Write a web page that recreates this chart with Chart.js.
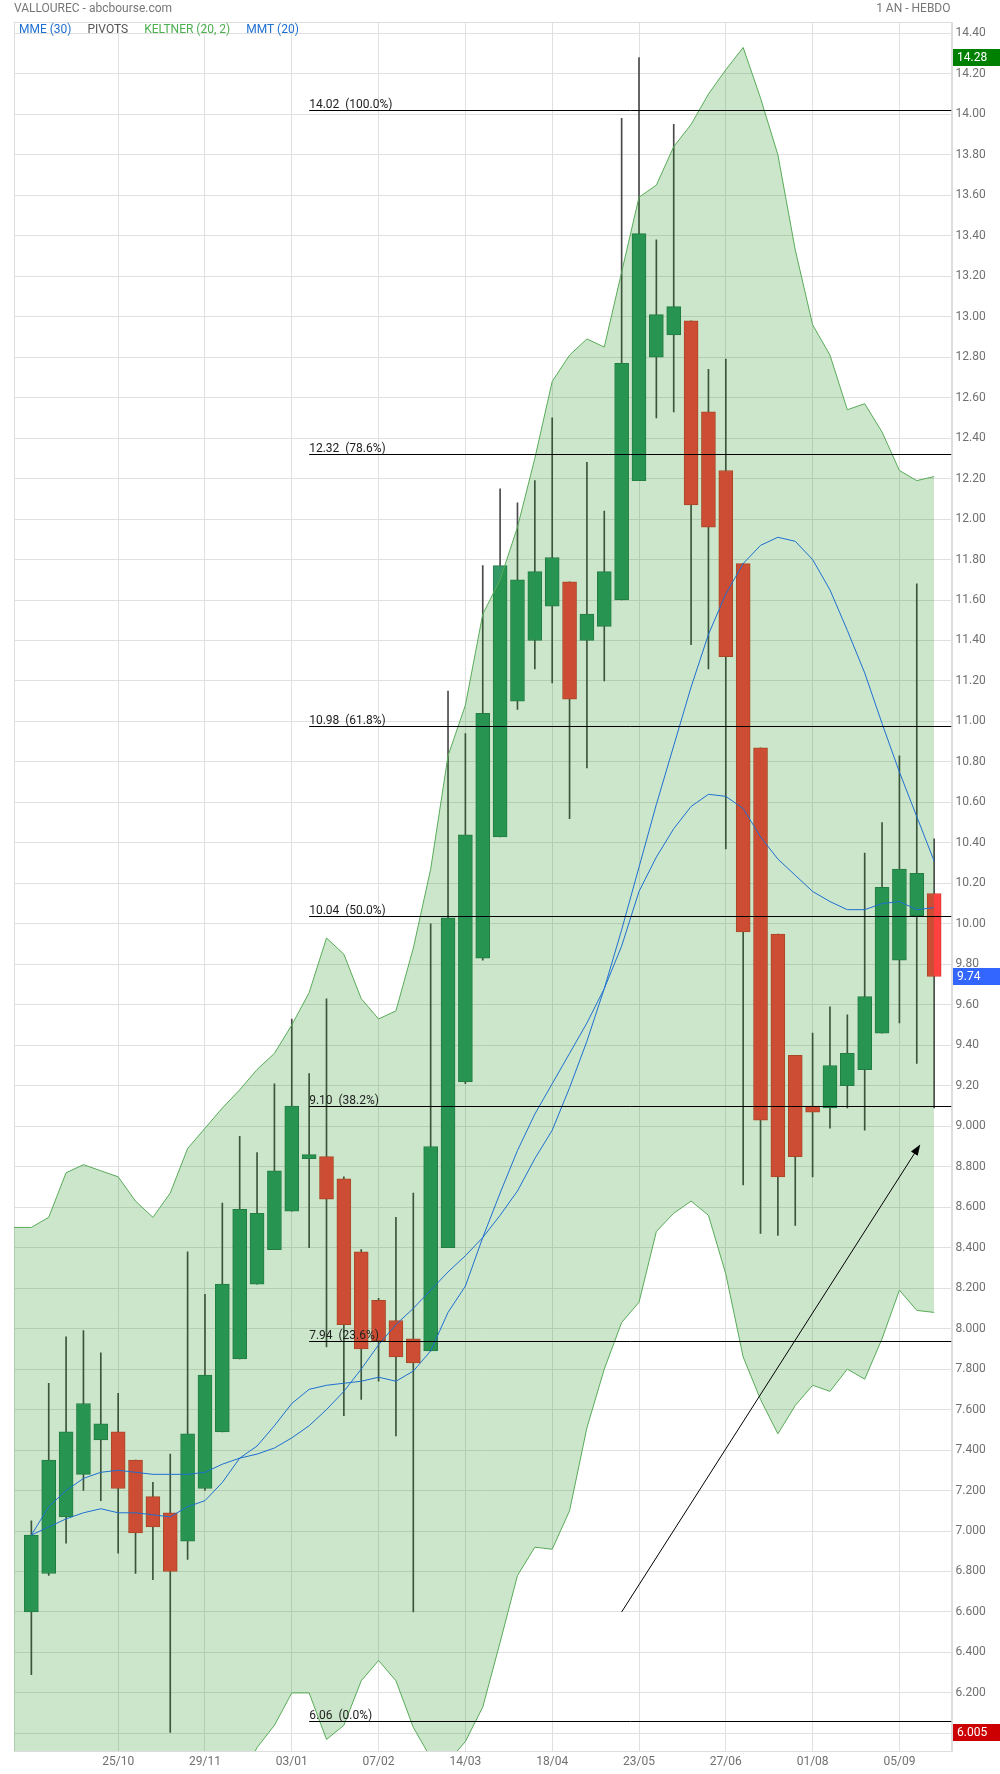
<!DOCTYPE html>
<html>
<head>
<meta charset="utf-8">
<title>VALLOUREC - abcbourse.com</title>
<script src="https://cdn.jsdelivr.net/npm/chart.js"></script>
<style>
  html, body { margin: 0; padding: 0; background: #fff; }
  canvas { display: block; }
</style>
</head>
<body>
<canvas id="chart" width="1000" height="1774"></canvas>
<script>
// one entry per week, index 0 (13/09) only carries the band values
const weeks = ['13/09', '20/09', '27/09', '04/10', '11/10', '18/10', '25/10', '01/11', '08/11', '15/11',
  '22/11', '29/11', '06/12', '13/12', '20/12', '27/12', '03/01', '10/01', '17/01', '24/01',
  '31/01', '07/02', '14/02', '21/02', '28/02', '07/03', '14/03', '21/03', '28/03', '04/04',
  '11/04', '18/04', '25/04', '02/05', '09/05', '16/05', '23/05', '30/05', '06/06', '13/06',
  '20/06', '27/06', '04/07', '11/07', '18/07', '25/07', '01/08', '08/08', '15/08', '22/08',
  '29/08', '05/09', '12/09', '19/09'];
const dateTicks = [6, 11, 16, 21, 26, 31, 36, 41, 46, 51];

const opens = [null, 6.60, 6.79, 7.07, 7.28, 7.45, 7.49, 7.35, 7.17, 7.09,
  6.95, 7.21, 7.49, 7.85, 8.22, 8.39, 8.58, 8.84, 8.85, 8.74,
  8.38, 8.14, 8.04, 7.95, 7.89, 8.40, 9.22, 9.83, 10.43, 11.10,
  11.40, 11.57, 11.69, 11.40, 11.47, 11.60, 12.19, 12.80, 12.91, 12.98,
  12.53, 12.24, 11.78, 10.87, 9.95, 9.35, 9.10, 9.09, 9.20, 9.28,
  9.46, 9.82, 10.04, 10.15];
const highs = [null, 7.05, 7.73, 7.96, 7.99, 7.88, 7.68, 7.35, 7.24, 7.38,
  8.38, 8.17, 8.62, 8.95, 8.87, 9.21, 9.53, 9.26, 9.63, 8.75,
  8.39, 8.15, 8.55, 8.67, 10.00, 11.15, 10.94, 11.77, 12.15, 12.08,
  12.19, 12.50, 11.69, 12.28, 12.04, 13.98, 14.28, 13.38, 13.95, 12.98,
  12.74, 12.79, 11.78, 10.87, 9.95, 9.35, 9.46, 9.59, 9.55, 10.35,
  10.50, 10.83, 11.68, 10.42];
const lows = [null, 6.29, 6.78, 6.94, 7.20, 7.15, 6.89, 6.79, 6.76, 6.005,
  6.86, 7.20, 7.49, 7.85, 8.22, 8.39, 8.58, 8.40, 7.91, 7.57,
  7.65, 7.74, 7.47, 6.60, 7.89, 8.40, 9.21, 9.82, 10.43, 11.06,
  11.26, 11.19, 10.52, 10.77, 11.20, 11.60, 12.19, 12.50, 12.53, 11.38,
  11.26, 10.37, 8.71, 8.47, 8.46, 8.51, 8.75, 8.99, 9.09, 8.98,
  9.46, 9.51, 9.31, 9.09];
const closes = [null, 6.98, 7.35, 7.49, 7.63, 7.53, 7.21, 6.99, 7.02, 6.80,
  7.48, 7.77, 8.22, 8.59, 8.57, 8.78, 9.10, 8.86, 8.64, 8.02,
  7.90, 7.94, 7.86, 7.83, 8.90, 10.03, 10.44, 11.04, 11.77, 11.70,
  11.74, 11.81, 11.11, 11.53, 11.74, 12.77, 13.41, 13.01, 13.05, 12.07,
  11.96, 11.32, 9.96, 9.03, 8.75, 8.85, 9.07, 9.30, 9.36, 9.64,
  10.18, 10.27, 10.25, 9.74];

// KELTNER (20, 2)
const keltnerUp = [8.50, 8.50, 8.55, 8.77, 8.81, 8.78, 8.75, 8.63, 8.55, 8.67,
  8.89, 8.99, 9.09, 9.18, 9.28, 9.36, 9.50, 9.66, 9.93, 9.85,
  9.63, 9.53, 9.57, 9.88, 10.27, 10.83, 11.08, 11.53, 11.70, 11.96,
  12.30, 12.68, 12.81, 12.89, 12.85, 13.22, 13.59, 13.65, 13.84, 13.95,
  14.10, 14.22, 14.33, 14.08, 13.80, 13.33, 12.96, 12.81, 12.54, 12.57,
  12.43, 12.24, 12.19, 12.21];
const keltnerDown = [5.45, 5.45, 5.40, 5.30, 5.30, 5.35, 5.40, 5.45, 5.45, 5.40,
  5.45, 5.55, 5.65, 5.76, 5.93, 6.04, 6.20, 6.20, 5.97, 6.04,
  6.26, 6.36, 6.26, 6.03, 5.88, 5.86, 5.96, 6.13, 6.45, 6.78,
  6.92, 6.91, 7.10, 7.51, 7.80, 8.03, 8.13, 8.48, 8.57, 8.63,
  8.56, 8.27, 7.86, 7.65, 7.48, 7.62, 7.72, 7.69, 7.80, 7.75,
  7.95, 8.19, 8.09, 8.08];

// MME (30) and MMT (20)
const mme30 = [null, 6.98, 7.02, 7.06, 7.09, 7.11, 7.09, 7.09, 7.08, 7.07,
  7.12, 7.15, 7.24, 7.36, 7.42, 7.52, 7.63, 7.70, 7.72, 7.73,
  7.74, 7.76, 7.74, 7.79, 7.89, 8.08, 8.21, 8.45, 8.67, 8.88,
  9.06, 9.21, 9.36, 9.51, 9.68, 9.89, 10.16, 10.33, 10.47, 10.58,
  10.64, 10.63, 10.57, 10.43, 10.32, 10.24, 10.16, 10.11, 10.07, 10.07,
  10.10, 10.11, 10.07, 10.08];
const mmt20 = [null, 6.98, 7.12, 7.20, 7.26, 7.29, 7.30, 7.29, 7.28, 7.28,
  7.28, 7.29, 7.33, 7.36, 7.38, 7.41, 7.46, 7.52, 7.60, 7.69,
  7.80, 7.92, 8.02, 8.10, 8.19, 8.28, 8.36, 8.45, 8.56, 8.68,
  8.84, 8.98, 9.19, 9.42, 9.68, 9.97, 10.28, 10.59, 10.88, 11.17,
  11.43, 11.63, 11.78, 11.87, 11.91, 11.89, 11.80, 11.65, 11.45, 11.24,
  10.99, 10.75, 10.53, 10.31];

// retracement levels, drawn from week 17 to the right edge
const fibLevels = [14.02, 12.32, 10.98, 10.04, 9.10, 7.94, 6.06];
const fibPercents = [100.0, 78.6, 61.8, 50.0, 38.2, 23.6, 0.0];
const fibStart = 17;

// hand-drawn trend arrow, in (week, price)
const arrowFrom = [35, 6.60];
const arrowTo = [52.2, 8.91];

const yMin = 5.913;
const yMax = 14.456;
const yFirstTick = 6.0;
const yStep = 0.2;

const GREEN = '#339966';
const RED = '#ff4040';
const BLUE = '#1e6fd0';
const GREY = '#707070';
const FONT = 'Roboto';

function fmtPrice(v) {
  return v <= 9.0001 ? v.toFixed(3) : v.toFixed(2);
}

const candleIdx = weeks.map((w, i) => i).filter(i => opens[i] !== null);
const bodies = candleIdx.map(i => ({ x: i, y: [opens[i], closes[i]] }));
const wicks = candleIdx.map(i => ({ x: i, y: [lows[i], highs[i]] }));
const bodyColors = candleIdx.map(i => closes[i] >= opens[i] ? GREEN : RED);
const bodyBorders = candleIdx.map(i => closes[i] >= opens[i] ? '#2b7d52' : '#d43a2e');

const series = arr => arr.map((v, i) => ({ x: i, y: v }));

const overlay = {
  id: 'overlay',
  beforeDraw(chart) {
    const { ctx, width, height } = chart;
    ctx.save();
    ctx.fillStyle = '#ffffff';
    ctx.fillRect(0, 0, width, height);
    ctx.restore();
  },
  beforeDatasetsDraw(chart) {
    const { ctx, chartArea: a } = chart;
    ctx.save();
    ctx.strokeStyle = '#dddddd';
    ctx.lineWidth = 1;
    ctx.strokeRect(Math.round(a.left) + 0.5, Math.round(a.top) + 0.5,
      Math.round(a.right - a.left), Math.round(a.bottom - a.top));
    ctx.restore();
  },
  afterDatasetsDraw(chart) {
    const { ctx, chartArea: a } = chart;
    const xs = chart.scales.x;
    const ys = chart.scales.y;
    ctx.save();
    ctx.beginPath();
    ctx.rect(a.left, a.top, a.right - a.left, a.bottom - a.top);
    ctx.clip();

    // retracement lines
    const x0 = xs.getPixelForValue(fibStart);
    ctx.font = '12px ' + FONT;
    ctx.textAlign = 'left';
    ctx.textBaseline = 'alphabetic';
    fibLevels.forEach((lvl, k) => {
      const y = Math.round(ys.getPixelForValue(lvl)) + 0.5;
      ctx.strokeStyle = '#000';
      ctx.lineWidth = 1;
      ctx.beginPath();
      ctx.moveTo(x0, y);
      ctx.lineTo(a.right, y);
      ctx.stroke();
      ctx.fillStyle = '#222';
      ctx.fillText(lvl.toFixed(2) + '  (' + fibPercents[k].toFixed(1) + '%)', x0, y - 3);
    });

    // arrow
    const ax = xs.getPixelForValue(arrowFrom[0]);
    const ay = ys.getPixelForValue(arrowFrom[1]);
    const bx = xs.getPixelForValue(arrowTo[0]);
    const by = ys.getPixelForValue(arrowTo[1]);
    const ang = Math.atan2(by - ay, bx - ax);
    ctx.strokeStyle = '#000';
    ctx.fillStyle = '#000';
    ctx.lineWidth = 1;
    ctx.beginPath();
    ctx.moveTo(ax, ay);
    ctx.lineTo(bx - 8 * Math.cos(ang), by - 8 * Math.sin(ang));
    ctx.stroke();
    ctx.beginPath();
    ctx.moveTo(bx, by);
    ctx.lineTo(bx - 11 * Math.cos(ang) + 4 * Math.sin(ang), by - 11 * Math.sin(ang) - 4 * Math.cos(ang));
    ctx.lineTo(bx - 11 * Math.cos(ang) - 4 * Math.sin(ang), by - 11 * Math.sin(ang) + 4 * Math.cos(ang));
    ctx.closePath();
    ctx.fill();

    // indicator legend
    const items = [['MME (30)', BLUE], ['PIVOTS', '#555555'], ['KELTNER (20, 2)', '#4caf50'], ['MMT (20)', BLUE]];
    ctx.font = '12px ' + FONT;
    ctx.textBaseline = 'middle';
    let lx = a.left + 5;
    items.forEach(([txt, col]) => {
      ctx.fillStyle = col;
      ctx.fillText(txt, lx, a.top + 8);
      lx += ctx.measureText(txt).width + 16;
    });
    ctx.restore();
  },
  afterDraw(chart) {
    const { ctx, chartArea: a, width } = chart;
    const ys = chart.scales.y;
    ctx.save();
    ctx.font = '12px ' + FONT;
    ctx.textBaseline = 'middle';
    ctx.fillStyle = '#777777';
    ctx.textAlign = 'left';
    ctx.fillText('VALLOUREC - abcbourse.com', a.left, 9);
    ctx.textAlign = 'right';
    ctx.fillText('1 AN - HEBDO', a.right - 1, 9);

    // price markers on the axis: highest high, last close, lowest low
    const hi = Math.max(...highs.filter(v => v !== null));
    const lo = Math.min(...lows.filter(v => v !== null));
    const last = closes[closes.length - 1];
    [[hi, '#008000'], [last, '#3366ff'], [lo, '#cc0000']].forEach(([v, bg]) => {
      const y = ys.getPixelForValue(v);
      const x = Math.round(a.right) + 1;
      ctx.fillStyle = bg;
      ctx.fillRect(x, Math.round(y - 8.5), width - x, 17);
      ctx.fillStyle = '#ffffff';
      ctx.textAlign = 'left';
      ctx.fillText(fmtPrice(v), x + 4, y + 0.5);
    });
    ctx.restore();
  }
};

new Chart(document.getElementById('chart'), {
  type: 'bar',
  data: {
    datasets: [
      {
        type: 'line', label: 'MME (30)', data: series(mme30), order: 1,
        borderColor: BLUE, borderWidth: 1, pointRadius: 0, tension: 0, fill: false
      },
      {
        type: 'line', label: 'MMT (20)', data: series(mmt20), order: 1,
        borderColor: BLUE, borderWidth: 1, pointRadius: 0, tension: 0, fill: false
      },
      {
        type: 'line', label: 'Keltner haut', data: series(keltnerUp), order: 4,
        borderColor: '#58ab58', borderWidth: 1, pointRadius: 0, tension: 0,
        fill: '+1', backgroundColor: 'rgba(0, 128, 0, 0.2)'
      },
      {
        type: 'line', label: 'Keltner bas', data: series(keltnerDown), order: 3,
        borderColor: '#58ab58', borderWidth: 1, pointRadius: 0, tension: 0, fill: false
      },
      {
        label: 'Corps', data: bodies, order: 5, grouped: false,
        backgroundColor: bodyColors, borderColor: bodyBorders, borderWidth: 1,
        borderSkipped: false, barThickness: 14
      },
      {
        label: 'Mèches', data: wicks, order: 6, grouped: false,
        backgroundColor: '#4a4a4a', borderWidth: 0, barThickness: 1
      }
    ]
  },
  options: {
    responsive: false,
    animation: false,
    devicePixelRatio: 1,
    layout: { padding: { left: 14, top: 22, right: 0, bottom: 0 } },
    plugins: {
      legend: { display: false },
      tooltip: { enabled: false },
      title: { display: false }
    },
    scales: {
      x: {
        type: 'linear',
        min: 0,
        max: 54,
        offset: false,
        afterBuildTicks: s => { s.ticks = dateTicks.map(v => ({ value: v })); },
        afterFit: s => { s.height = 23; },
        grid: { color: '#e0e0e0', drawTicks: false, offset: false },
        border: { display: true, color: '#dddddd' },
        ticks: {
          autoSkip: false, maxRotation: 0, padding: 4,
          color: GREY, font: { family: FONT, size: 12 },
          callback: v => weeks[v] || ''
        }
      },
      y: {
        type: 'linear',
        position: 'right',
        min: yMin,
        max: yMax,
        afterBuildTicks: s => {
          const t = [];
          for (let v = yFirstTick; v <= yMax; v += yStep) t.push({ value: +v.toFixed(2) });
          s.ticks = t;
        },
        afterFit: s => { s.width = 48.5; },
        grid: { color: '#e0e0e0', drawTicks: false },
        border: { display: true, color: '#dddddd' },
        ticks: {
          padding: 4, color: GREY, font: { family: FONT, size: 12 },
          callback: v => fmtPrice(v)
        }
      }
    }
  },
  plugins: [overlay]
});
</script>
</body>
</html>
